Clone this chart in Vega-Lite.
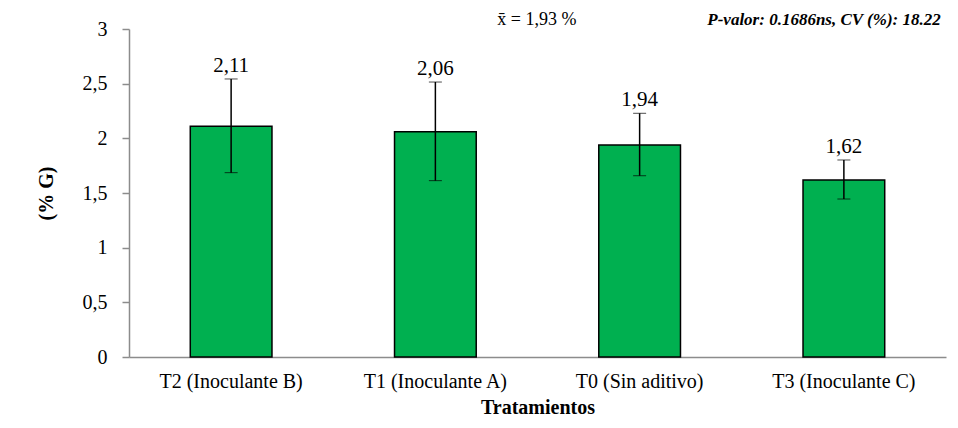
{
  "$schema": "https://vega.github.io/schema/vega-lite/v6.json",
  "width": 817,
  "height": 328,
  "autosize": "none",
  "padding": {"left": 129, "top": 29, "right": 12, "bottom": 71},
  "background": "white",
  "config": {"view": {"stroke": null}, "axis": {"grid": false}, "font": "Liberation Serif, Times New Roman, serif"},
  "data": {
    "values": [
      {"trat": "T2 (Inoculante B)", "media": 2.11, "lo": 1.686, "hi": 2.543, "lbl": "2,11"},
      {"trat": "T1 (Inoculante A)", "media": 2.06, "lo": 1.613, "hi": 2.515, "lbl": "2,06"},
      {"trat": "T0 (Sin aditivo)", "media": 1.94, "lo": 1.658, "hi": 2.229, "lbl": "1,94"},
      {"trat": "T3 (Inoculante C)", "media": 1.62, "lo": 1.445, "hi": 1.802, "lbl": "1,62"}
    ]
  },
  "encoding": {
    "x": {
      "field": "trat",
      "type": "nominal",
      "sort": null,
      "title": "Tratamientos",
      "scale": {"paddingInner": 0.6, "paddingOuter": 0.3},
      "axis": {
        "labelAngle": 0,
        "ticks": false,
        "domainColor": "#8c8c8c",
        "domainWidth": 1.5,
        "labelFont": "Liberation Serif, Times New Roman, serif",
        "labelFontSize": 20,
        "labelColor": "#000000",
        "labelPadding": 14,
        "titleFont": "Liberation Serif, Times New Roman, serif",
        "titleFontSize": 20,
        "titleFontWeight": "bold",
        "titleColor": "#000000",
        "titlePadding": 6
      }
    }
  },
  "layer": [
    {
      "mark": {"type": "bar", "color": "#00B050", "stroke": "#000000", "strokeWidth": 1.5},
      "encoding": {
        "y": {
          "field": "media",
          "type": "quantitative",
          "title": "(% G)",
          "scale": {"domain": [0, 3]},
          "axis": {
            "values": [0, 0.5, 1, 1.5, 2, 2.5, 3],
            "labelExpr": "replace(format(datum.value, '~g'), '.', ',')",
            "domainColor": "#8c8c8c",
            "domainWidth": 1.5,
            "tickColor": "#8c8c8c",
            "tickSize": 7,
            "tickWidth": 1.5,
            "labelFont": "Liberation Serif, Times New Roman, serif",
            "labelFontSize": 20,
            "labelColor": "#000000",
            "labelPadding": 15,
            "titleFont": "Liberation Serif, Times New Roman, serif",
            "titleFontSize": 20,
            "titleFontWeight": "bold",
            "titleColor": "#000000",
            "titlePadding": 26
          }
        }
      }
    },
    {
      "mark": {
        "type": "errorbar",
        "color": "#000000",
        "ticks": {"size": 13, "strokeWidth": 1.5, "color": "#000000"},
        "rule": {"strokeWidth": 1.5, "color": "#000000"}
      },
      "encoding": {
        "y": {"field": "lo", "type": "quantitative", "title": "(% G)"},
        "y2": {"field": "hi"}
      }
    },
    {
      "mark": {"type": "text", "baseline": "bottom", "dy": -3, "font": "Liberation Serif, Times New Roman, serif", "fontSize": 21, "color": "#000000"},
      "encoding": {
        "y": {"field": "hi", "type": "quantitative", "title": "(% G)"},
        "text": {"field": "lbl"}
      }
    },
    {
      "data": {"values": [{"t": "x̄ = 1,93 %"}]},
      "mark": {"type": "text", "align": "left", "baseline": "bottom", "dx": 21, "dy": 0, "font": "Liberation Serif, Times New Roman, serif", "fontSize": 18, "color": "#000000"},
      "encoding": {
        "x": {"datum": "T1 (Inoculante A)", "bandPosition": 1},
        "y": {"datum": 3, "type": "quantitative"},
        "text": {"field": "t"}
      }
    },
    {
      "data": {"values": [{"t": "P-valor: 0.1686ns, CV (%): 18.22"}]},
      "mark": {"type": "text", "align": "right", "baseline": "bottom", "dx": 56, "dy": 0, "font": "Liberation Serif, Times New Roman, serif", "fontSize": 17, "fontStyle": "italic", "fontWeight": "bold", "color": "#000000"},
      "encoding": {
        "x": {"datum": "T3 (Inoculante C)", "bandPosition": 1},
        "y": {"datum": 3, "type": "quantitative"},
        "text": {"field": "t"}
      }
    }
  ]
}
